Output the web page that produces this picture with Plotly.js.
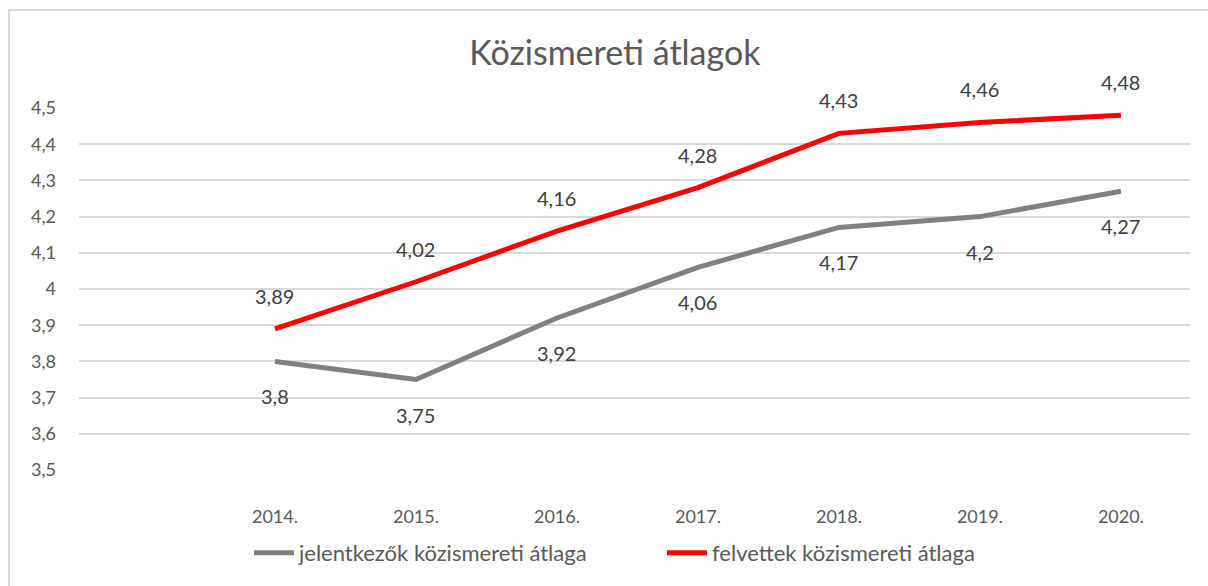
<!DOCTYPE html>
<html>
<head>
<meta charset="utf-8">
<script src="https://cdn.plot.ly/plotly-3.0.1.min.js"></script>
<style>
html,body{margin:0;padding:0;overflow:hidden;background:#fff;}
#frame{position:absolute;left:8px;top:9px;width:1400px;height:800px;border:2px solid #d9d9d9;box-sizing:border-box;pointer-events:none;z-index:5;}
#chart{position:absolute;left:0;top:0;width:1208px;height:586px;}
</style>
</head>
<body>
<div id="chart"></div>
<div id="frame"></div>
<script>
const years = ["2014.", "2015.", "2016.", "2017.", "2018.", "2019.", "2020."];
const jelentkezok = [3.8, 3.75, 3.92, 4.06, 4.17, 4.2, 4.27];
const felvettek = [3.89, 4.02, 4.16, 4.28, 4.43, 4.46, 4.48];
const nameJ = "jelentkezők közismereti átlaga";
const nameF = "felvettek közismereti átlaga";
const fmt = v => String(v).replace('.', ',');
const FONT = "Lato, 'Open Sans', sans-serif";

const traces = [
  {x: years, y: jelentkezok, name: nameJ, type: 'scatter', mode: 'lines',
   line: {color: '#808080', width: 5}},
  {x: years, y: felvettek, name: nameF, type: 'scatter', mode: 'lines',
   line: {color: '#ff0000', width: 5}}
];

const annotations = [];
years.forEach((yr, i) => {
  annotations.push({xref: 'x', yref: 'y', x: i, y: jelentkezok[i], text: fmt(jelentkezok[i]), showarrow: false,
    yshift: -35, font: {family: FONT, size: 20, color: '#404040'}});
  annotations.push({xref: 'x', yref: 'y', x: i, y: felvettek[i], text: fmt(felvettek[i]), showarrow: false,
    yshift: 33, font: {family: FONT, size: 20, color: '#404040'}});
});

const layout = {
  width: 1208, height: 586,
  margin: {l: 79, r: 18, t: 108, b: 116, autoexpand: false},
  paper_bgcolor: '#fff', plot_bgcolor: '#fff',
  separators: ', ',
  font: {family: FONT, size: 18, color: '#595959'},
  title: {text: 'Közismereti átlagok', x: 0.509, xanchor: 'center', xref: 'container',
    y: 0.91, yanchor: 'middle', font: {family: FONT, size: 34, color: '#595959'}},
  xaxis: {type: 'category', range: [-1.39, 6.49], showgrid: false, zeroline: false,
    showline: false, ticks: '', ticklabelstandoff: 34,
    tickfont: {family: FONT, size: 18, color: '#595959'}, fixedrange: true},
  yaxis: {range: [3.5, 4.5], dtick: 0.1, tick0: 3.5, showgrid: true, gridcolor: '#d9d9d9', gridwidth: 2,
    zeroline: false, showline: false, ticks: '', ticklabelstandoff: 22,
    tickfont: {family: FONT, size: 18, color: '#595959'}, fixedrange: true},
  showlegend: true,
  legend: {orientation: 'h', x: 0.153, xanchor: 'left', y: -0.229, yanchor: 'middle',
    font: {family: FONT, size: 22, color: '#595959'}, itemwidth: 40, entrywidth: 358,
    entrywidthmode: 'pixels', traceorder: 'normal'},
  annotations: annotations
};

Plotly.newPlot('chart', traces, layout, {displayModeBar: false, staticPlot: true});
</script>
</body>
</html>
